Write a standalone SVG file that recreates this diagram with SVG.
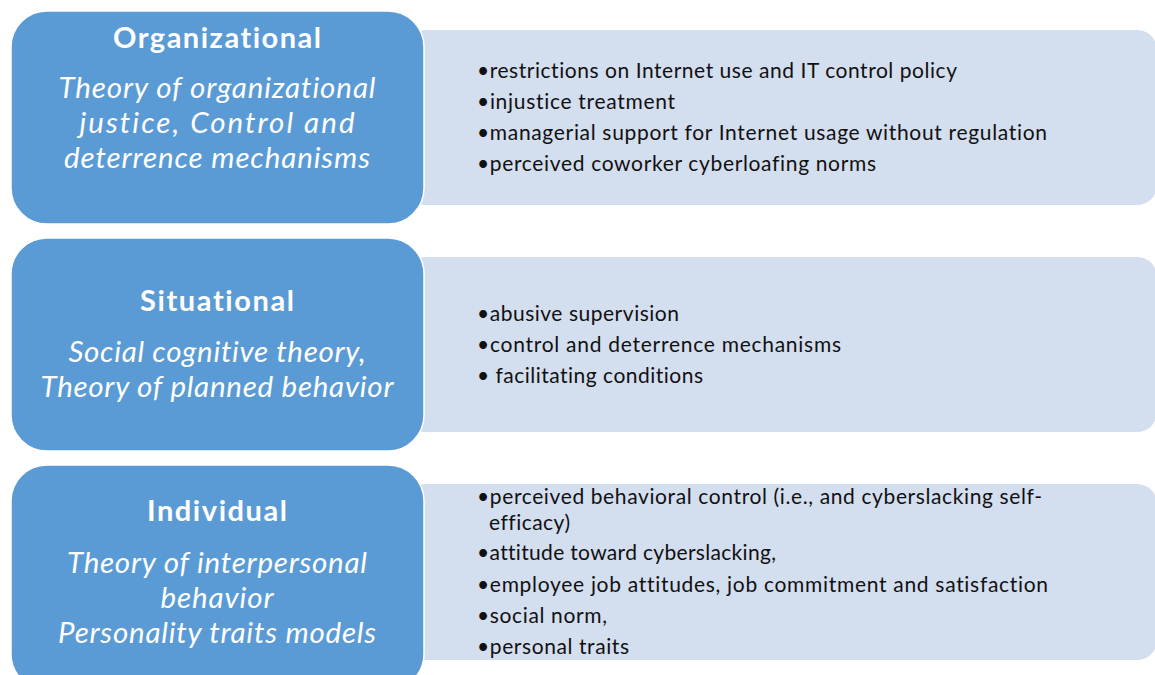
<svg xmlns="http://www.w3.org/2000/svg" width="1155" height="675" viewBox="0 0 1155 675">
  <style>
    text { font-variant-ligatures: none; }
    .panel { fill: #D3DEEF; }
    .head { fill: #5B9BD5; stroke: #FFFFFF; stroke-width: 1.5; }
    .title { font-family: Lato, "Open Sans", "Liberation Sans", sans-serif; font-weight: bold; font-size: 29px; fill: #FFFFFF; text-anchor: middle; }
    .theory { font-family: Lato, "Open Sans", "Liberation Sans", sans-serif; font-style: italic; font-size: 29.5px; fill: #FFFFFF; text-anchor: middle; }
    .item { font-family: Lato, "Open Sans", "Liberation Sans", sans-serif; font-size: 21px; fill: #111111; }
  </style>
  <rect width="1155" height="675" fill="#FFFFFF"/>

  <!-- Organizational -->
  <g id="organizational">
    <rect class="panel" x="405" y="30" width="752" height="175" rx="20"/>
    <rect class="head" x="11" y="11" width="413" height="213" rx="36"/>
    <text class="title" x="217" y="48" textLength="208">Organizational</text>
    <text class="theory" x="217" y="98" textLength="317">Theory of organizational</text>
    <text class="theory" x="217" y="133" textLength="275">justice, Control and</text>
    <text class="theory" x="217" y="168" textLength="306">deterrence mechanisms</text>
    <text class="item" x="477" y="78" textLength="480">•restrictions on Internet use and IT control policy</text>
    <text class="item" x="477" y="109" textLength="198">•injustice treatment</text>
    <text class="item" x="477" y="140" textLength="570">•managerial support for Internet usage without regulation</text>
    <text class="item" x="477" y="171" textLength="399">•perceived coworker cyberloafing norms</text>
  </g>

  <!-- Situational -->
  <g id="situational">
    <rect class="panel" x="405" y="257" width="752" height="175" rx="20"/>
    <rect class="head" x="11" y="238" width="413" height="213" rx="36"/>
    <text class="title" x="217" y="311" textLength="154">Situational</text>
    <text class="theory" x="217" y="362" textLength="297">Social cognitive theory,</text>
    <text class="theory" x="217" y="397" textLength="353">Theory of planned behavior</text>
    <text class="item" x="477" y="321" textLength="202">•abusive supervision</text>
    <text class="item" x="477" y="352" textLength="364">•control and deterrence mechanisms</text>
    <text class="item" x="477" y="383" textLength="226">• facilitating conditions</text>
  </g>

  <!-- Individual -->
  <g id="individual">
    <rect class="panel" x="405" y="484" width="752" height="176" rx="20"/>
    <rect class="head" x="11" y="465" width="413" height="225" rx="36"/>
    <text class="title" x="217" y="521" textLength="140">Individual</text>
    <text class="theory" x="217" y="573" textLength="300">Theory of interpersonal</text>
    <text class="theory" x="217" y="608" textLength="113">behavior</text>
    <text class="theory" x="217" y="643" textLength="318">Personality traits models</text>
    <text class="item" x="477" y="504" textLength="565">•perceived behavioral control (i.e., and cyberslacking self-</text>
    <text class="item" x="489" y="530" textLength="81">efficacy)</text>
    <text class="item" x="477" y="560" textLength="299">•attitude toward cyberslacking,</text>
    <text class="item" x="477" y="592" textLength="571">•employee job attitudes, job commitment and satisfaction</text>
    <text class="item" x="477" y="623" textLength="130">•social norm,</text>
    <text class="item" x="477" y="654" textLength="152">•personal traits</text>
  </g>

  <g id="connectors"/>
</svg>
